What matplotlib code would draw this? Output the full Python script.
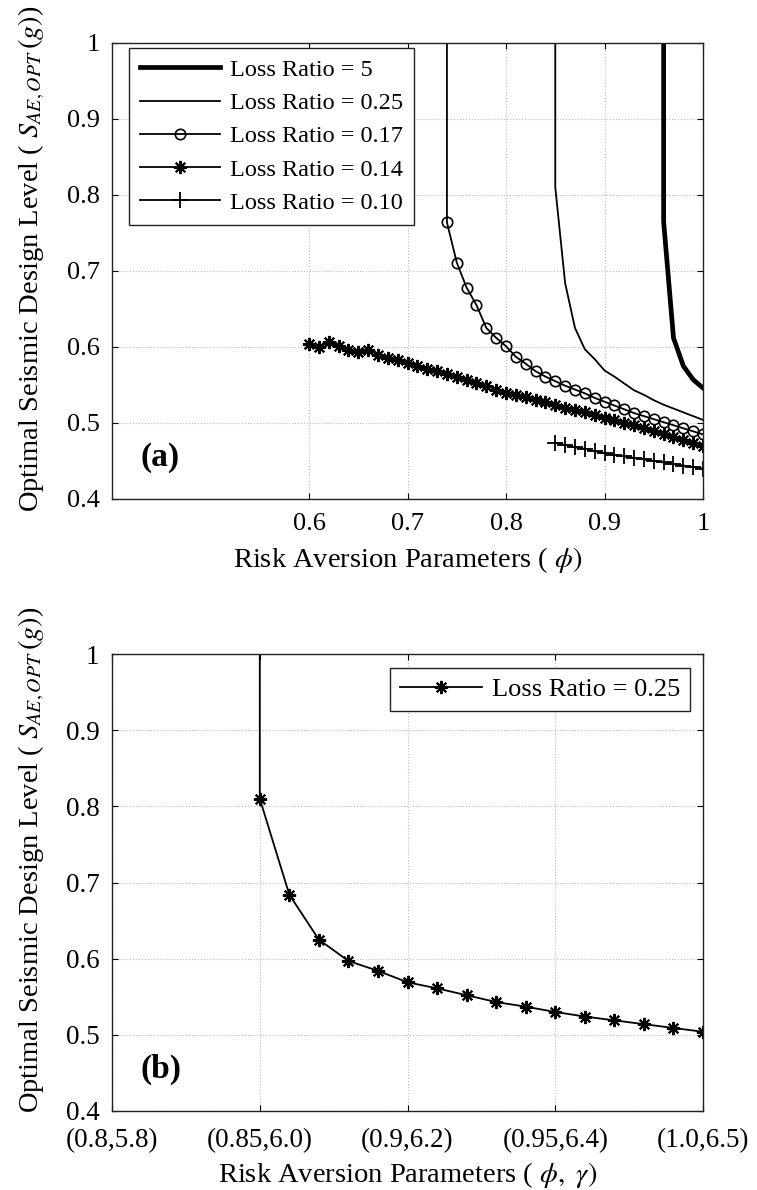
import matplotlib
matplotlib.use('Agg')
import matplotlib.pyplot as plt

plt.rcParams['font.family'] = ['Liberation Serif', 'DejaVu Serif']
plt.rcParams['mathtext.fontset'] = 'stix'
plt.rcParams['font.size'] = 17.5

OFF = 1.2  # curve leaves the top of the plot (off-scale)

# ---- panel (a) ----
phi_5 = [0.96, 0.96, 0.97, 0.98, 0.99, 1.00]
s_5 = [OFF, 0.765, 0.612, 0.575, 0.557, 0.546]

phi_025 = [0.85, 0.85, 0.86, 0.87, 0.88, 0.89, 0.90, 0.91, 0.92, 0.93,
           0.94, 0.95, 0.96, 0.97, 0.98, 0.99, 1.00]
s_025 = [OFF, 0.810, 0.684, 0.625, 0.597, 0.584, 0.569, 0.561, 0.552, 0.543,
         0.537, 0.530, 0.524, 0.519, 0.514, 0.509, 0.504]

phi_017 = [0.74, 0.74, 0.75, 0.76, 0.77, 0.78, 0.79, 0.80, 0.81, 0.82, 0.83,
           0.84, 0.85, 0.86, 0.87, 0.88, 0.89, 0.90, 0.91, 0.92, 0.93,
           0.94, 0.95, 0.96, 0.97, 0.98, 0.99, 1.00]
s_017 = [OFF, 0.764, 0.711, 0.678, 0.655, 0.625, 0.612, 0.601, 0.587, 0.578, 0.568,
         0.561, 0.555, 0.549, 0.544, 0.539, 0.533, 0.528, 0.523, 0.518, 0.513,
         0.509, 0.505, 0.501, 0.497, 0.493, 0.489, 0.485]

phi_014 = [0.60, 0.61, 0.62, 0.63, 0.64, 0.65, 0.66, 0.67, 0.68, 0.69,
           0.70, 0.71, 0.72, 0.73, 0.74, 0.75, 0.76, 0.77, 0.78, 0.79,
           0.80, 0.81, 0.82, 0.83, 0.84, 0.85, 0.86, 0.87, 0.88, 0.89,
           0.90, 0.91, 0.92, 0.93, 0.94, 0.95, 0.96, 0.97, 0.98, 0.99, 1.00]
s_014 = [0.604, 0.600, 0.606, 0.601, 0.596, 0.593, 0.596, 0.590, 0.586, 0.583,
         0.579, 0.575, 0.571, 0.568, 0.564, 0.561, 0.557, 0.553, 0.549, 0.544,
         0.540, 0.537, 0.534, 0.530, 0.527, 0.524, 0.520, 0.517, 0.514, 0.510,
         0.507, 0.504, 0.500, 0.497, 0.493, 0.490, 0.486, 0.482, 0.478, 0.474, 0.470]

phi_010 = [0.85, 0.86, 0.87, 0.88, 0.89, 0.90, 0.91, 0.92, 0.93, 0.94,
           0.95, 0.96, 0.97, 0.98, 0.99, 1.00]
s_010 = [0.474, 0.471, 0.468, 0.466, 0.463, 0.460, 0.458, 0.456, 0.454, 0.452,
         0.450, 0.448, 0.446, 0.444, 0.442, 0.440]

# ---- panel (b) ----
phi_b = [0.85, 0.85, 0.86, 0.87, 0.88, 0.89, 0.90, 0.91, 0.92, 0.93,
         0.94, 0.95, 0.96, 0.97, 0.98, 0.99, 1.00]
s_b = [OFF, 0.810, 0.684, 0.625, 0.597, 0.584, 0.569, 0.561, 0.552, 0.543,
       0.537, 0.530, 0.524, 0.519, 0.514, 0.509, 0.504]

yticks = [0.4, 0.5, 0.6, 0.7, 0.8, 0.9, 1.0]
ytick_labels = ['0.4', '0.5', '0.6', '0.7', '0.8', '0.9', '1']
xticks_a = [0.6, 0.7, 0.8, 0.9, 1.0]
xtick_labels_a = ['0.6', '0.7', '0.8', '0.9', '1']
xticks_b = [0.8, 0.85, 0.9, 0.95, 1.0]
xtick_labels_b = ['(0.8,5.8)', '(0.85,6.0)', '(0.9,6.2)', '(0.95,6.4)', '(1.0,6.5)']

ylabel = r'Optimal Seismic Design Level ( $S_{AE,OPT}\,(g)$)'
star = (8, 2, 0)
LAB = 20.5


def style(ax, tsize, xpad):
    ax.tick_params(direction='in', length=4, width=0.8, top=True, right=True,
                   pad=9, labelsize=tsize)
    ax.tick_params(axis='x', pad=xpad)
    ax.grid(True, linestyle=':', color='#bdbdbd', linewidth=0.8)
    for sp in ax.spines.values():
        sp.set_linewidth(1.0)
        sp.set_color('#222222')
    ax.set_yticks(yticks)
    ax.set_yticklabels(ytick_labels)
    ax.set_ylim(0.4, 1.0)


fig = plt.figure(figsize=(7.57, 11.90), dpi=100)
ax1 = fig.add_axes([0.148, 0.5807, 0.7807, 0.3832])
ax2 = fig.add_axes([0.148, 0.0664, 0.7807, 0.384])

# panel (a)
ax1.plot(phi_5, s_5, color='k', lw=3.4, label='Loss Ratio = 5')
ax1.plot(phi_025, s_025, color='k', lw=1.3, label='Loss Ratio = 0.25')
ax1.plot(phi_017, s_017, color='k', lw=1.3, marker='o', ms=7.5, mfc='none',
         mew=1.2, label='Loss Ratio = 0.17')
ax1.plot(phi_014, s_014, color='k', lw=1.3, marker=star, ms=9.5, mew=1.5,
         label='Loss Ratio = 0.14')
ax1.plot(phi_010, s_010, color='k', lw=1.3, marker='+', ms=11, mew=1.3,
         label='Loss Ratio = 0.10')
style(ax1, 19, 10)
ax1.set_xlim(0.4, 1.0)
ax1.set_xticks(xticks_a)
ax1.set_xticklabels(xtick_labels_a)
ax1.set_xlabel(r'Risk Aversion Parameters ( $\phi)$', fontsize=LAB)
ax1.xaxis.set_label_coords(0.5, -0.1)
ax1.set_ylabel(ylabel, fontsize=LAB)
ax1.yaxis.set_label_coords(-0.11, 0.527)
leg = ax1.legend(loc='upper left', bbox_to_anchor=(0.029, 0.989), borderaxespad=0,
                 handlelength=3.3, handletextpad=0.4, labelspacing=0.46,
                 borderpad=0.45, fancybox=False, edgecolor='#222222', framealpha=1,
                 fontsize=17.5)
leg.get_frame().set_linewidth(1.0)
ax1.text(0.429, 0.454, '(a)', fontsize=24, fontweight='bold', va='center')

# panel (b)
ax2.plot(phi_b, s_b, color='k', lw=1.3, marker=star, ms=9.5, mew=1.5,
         label='Loss Ratio = 0.25')
style(ax2, 19.5, 12)
ax2.set_xlim(0.8, 1.0)
ax2.set_xticks(xticks_b)
ax2.set_xticklabels(xtick_labels_b)
ax2.set_xlabel(r'Risk Aversion Parameters ( $\phi,\ \gamma)$', fontsize=LAB)
ax2.xaxis.set_label_coords(0.5, -0.108)
ax2.set_ylabel(ylabel, fontsize=LAB)
ax2.yaxis.set_label_coords(-0.11, 0.55)
leg2 = ax2.legend(loc='upper right', bbox_to_anchor=(0.978, 0.969), borderaxespad=0,
                  handlelength=3.1, handletextpad=0.4, borderpad=0.36,
                  fancybox=False, edgecolor='#222222', framealpha=1, fontsize=19)
leg2.get_frame().set_linewidth(1.0)
ax2.text(0.8095, 0.454, '(b)', fontsize=24, fontweight='bold', va='center')

fig.savefig('out.png', dpi=100, facecolor='white')
